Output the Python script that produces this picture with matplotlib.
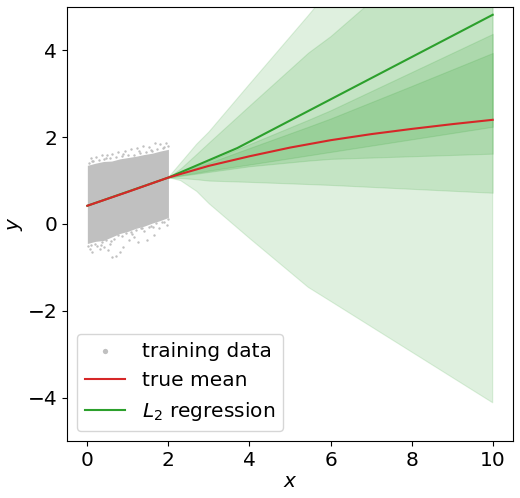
import numpy as np
import matplotlib.pyplot as plt

FONT = 14.5

# training cloud: dense body edges
cloud_x = [0.0, 0.2, 0.4, 0.6, 0.8, 1.0, 1.2, 1.4, 1.6, 1.8, 2.0]
cloud_low = [-0.45, -0.40, -0.38, -0.30, -0.22, -0.17, -0.10, -0.05, 0.02,
             0.08, 0.15]
cloud_high = [1.35, 1.40, 1.44, 1.45, 1.50, 1.53, 1.56, 1.60, 1.63, 1.68,
              1.72]

# loose training points along the fuzzy edges of the cloud
top_x = [0.03, 0.08, 0.15, 0.22, 0.28, 0.35, 0.42, 0.48, 0.55, 0.62, 0.70,
         0.76, 0.85, 0.92, 1.00, 1.08, 1.15, 1.22, 1.30, 1.38, 1.45, 1.52,
         1.60, 1.66, 1.72, 1.80, 1.86, 1.93, 1.98, 0.11, 0.46, 0.88, 1.27,
         1.57, 1.90]
top_y = [1.40, 1.52, 1.44, 1.55, 1.47, 1.58, 1.49, 1.60, 1.51, 1.62, 1.54,
         1.66, 1.56, 1.69, 1.59, 1.73, 1.60, 1.75, 1.64, 1.80, 1.66, 1.78,
         1.68, 1.86, 1.73, 1.84, 1.75, 1.87, 1.79, 1.46, 1.52, 1.62, 1.68,
         1.70, 1.77]
bottom_x = [0.02, 0.06, 0.12, 0.18, 0.25, 0.30, 0.36, 0.40, 0.46, 0.52, 0.58,
            0.61, 0.66, 0.71, 0.75, 0.81, 0.85, 0.89, 0.95, 1.02, 1.08, 1.15,
            1.20, 1.26, 1.32, 1.40, 1.47, 1.52, 1.58, 1.65, 1.70, 1.76, 1.84,
            1.90, 1.96, 2.00, 0.09, 0.33, 0.55, 1.11, 1.36, 1.62]
bottom_y = [-0.50, -0.58, -0.65, -0.46, -0.50, -0.58, -0.42, -0.52, -0.36,
            -0.61, -0.40, -0.77, -0.34, -0.73, -0.26, -0.64, -0.28, -0.52,
            -0.21, -0.37, -0.19, -0.30, -0.13, -0.41, -0.09, -0.17, -0.37,
            -0.07, -0.05, -0.25, 0.02, -0.10, 0.04, 0.05, -0.02, 0.11, -0.48,
            -0.48, -0.47, -0.24, -0.10, -0.06]

# true mean
mean_x = [0, 1, 2, 3, 4, 5, 6, 7, 8, 9, 10]
mean_y = [0.42, 0.74, 1.07, 1.34, 1.56, 1.76, 1.93, 2.07, 2.19, 2.30, 2.40]

# L2 regression prediction
l2_x = [0.0, 2.0, 3.7, 10.0]
l2_y = [0.42, 1.07, 1.75, 4.82]

# predictive bands (outer to inner)
band_x = [2.0, 2.3, 2.7, 3.0, 4.0, 5.45, 6.0, 8.0, 10.0]
band_a_low = [1.07, 1.00, 0.75, 0.47, -0.33, -1.46, -1.78, -2.95, -4.12]
band_a_high = [1.07, 1.40, 1.84, 2.12, 3.22, 4.80, 5.42, 7.70, 10.00]
band_b_low = [1.07, 1.06, 1.03, 1.00, 0.97, 0.92, 0.90, 0.81, 0.72]
band_b_high = [1.07, 1.28, 1.62, 1.88, 2.73, 3.95, 4.33, 5.95, 7.45]
band_c_low = [1.07, 1.11, 1.16, 1.20, 1.33, 1.46, 1.50, 1.56, 1.62]
band_c_high = [1.07, 1.18, 1.34, 1.45, 1.84, 2.40, 2.62, 3.50, 4.38]
band_d_low = [1.07, 1.12, 1.18, 1.23, 1.37, 1.58, 1.66, 1.95, 2.24]
band_d_high = [1.07, 1.17, 1.31, 1.41, 1.75, 2.24, 2.43, 3.18, 3.94]


def main():
    fig = plt.figure(figsize=(5.2, 4.98), dpi=100)
    ax = fig.add_axes([0.129, 0.1145, 0.8575, 0.8715])

    ax.fill_between(cloud_x, cloud_low, cloud_high, color='silver',
                    linewidth=0, zorder=1)
    ax.scatter(top_x + bottom_x, top_y + bottom_y, s=3, color='silver',
               linewidths=0, zorder=1, label='training data')

    bands = [(band_a_low, band_a_high), (band_b_low, band_b_high),
             (band_c_low, band_c_high), (band_d_low, band_d_high)]
    for low, high in bands:
        ax.fill_between(band_x, low, high, color='tab:green', alpha=0.15,
                        linewidth=0.8, zorder=2)

    ax.plot(mean_x, mean_y, color='tab:red', lw=1.5, zorder=4,
            label='true mean')
    ax.plot(l2_x, l2_y, color='tab:green', lw=1.5, zorder=3,
            label='$L_2$ regression')

    ax.set_xlim(-0.5, 10.5)
    ax.set_ylim(-5, 5)
    ax.set_xticks([0, 2, 4, 6, 8, 10])
    ax.set_yticks([-4, -2, 0, 2, 4])
    ax.tick_params(labelsize=FONT)
    ax.set_xlabel('$x$', fontsize=FONT, labelpad=2)
    ax.set_ylabel('$y$', fontsize=FONT, labelpad=2)

    ax.legend(loc='lower left', fontsize=FONT, markerscale=2.2)

    fig.savefig('out.png', dpi=100)


if __name__ == '__main__':
    main()
